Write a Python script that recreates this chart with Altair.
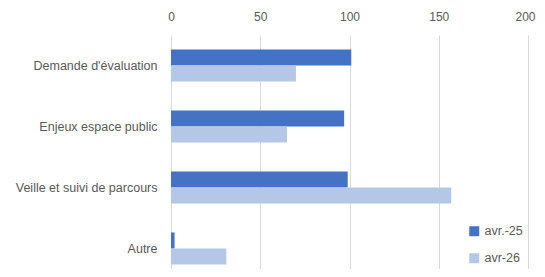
import altair as alt
import pandas as pd

categories = ["Demande d'évaluation", "Enjeux espace public", "Veille et suivi de parcours", "Autre"]
series = ["avr.-25", "avr-26"]
values_25 = [101, 97, 99, 2]
values_26 = [70, 65, 157, 31]
colors = ["#4472C4", "#B4C7E7"]

rows = []
for c, a, b in zip(categories, values_25, values_26):
    rows.append({"cat": c, "serie": series[0], "val": a})
    rows.append({"cat": c, "serie": series[1], "val": b})
df = pd.DataFrame(rows)

FONT = "Liberation Sans"
GRAY = "#595959"

chart = alt.Chart(df).mark_bar().encode(
    x=alt.X("val:Q", scale=alt.Scale(domain=[0, 200], nice=False),
            axis=alt.Axis(orient="top", values=[0, 50, 100, 150, 200], title=None,
                          domain=False, ticks=False, labelFont=FONT, labelFontSize=12,
                          labelColor=GRAY, labelPadding=12, labelFlush=False,
                          labelOffset=alt.ExprRef("datum.value == 200 ? -3 : 0"),
                          grid=True, gridColor="#D9D9D9", gridWidth=1)),
    y=alt.Y("cat:N", sort=categories,
            scale=alt.Scale(paddingInner=0.475, paddingOuter=0.2375),
            axis=alt.Axis(title=None, domain=False, ticks=False, labelFont=FONT,
                          labelFontSize=12.5, labelColor=GRAY, labelPadding=14, grid=False)),
    yOffset=alt.YOffset("serie:N", sort=series, scale=alt.Scale(paddingInner=0, paddingOuter=0)),
    color=alt.Color("serie:N", sort=series,
                    scale=alt.Scale(domain=series, range=colors),
                    legend=alt.Legend(title=None, orient="none", legendX=297, legendY=190,
                                      symbolType="square", symbolSize=100, symbolStrokeWidth=0,
                                      labelFont=FONT, labelFontSize=12.5, labelColor=GRAY,
                                      rowPadding=14, labelOffset=4)),
).properties(
    width=357, height=244,
    autosize=alt.AutoSizeParams(type="none"),
    padding={"left": 163, "top": 27, "right": 9, "bottom": -10},
).configure_view(stroke=None)

chart.save("out.html", embed_options={"renderer": "svg", "actions": False})
